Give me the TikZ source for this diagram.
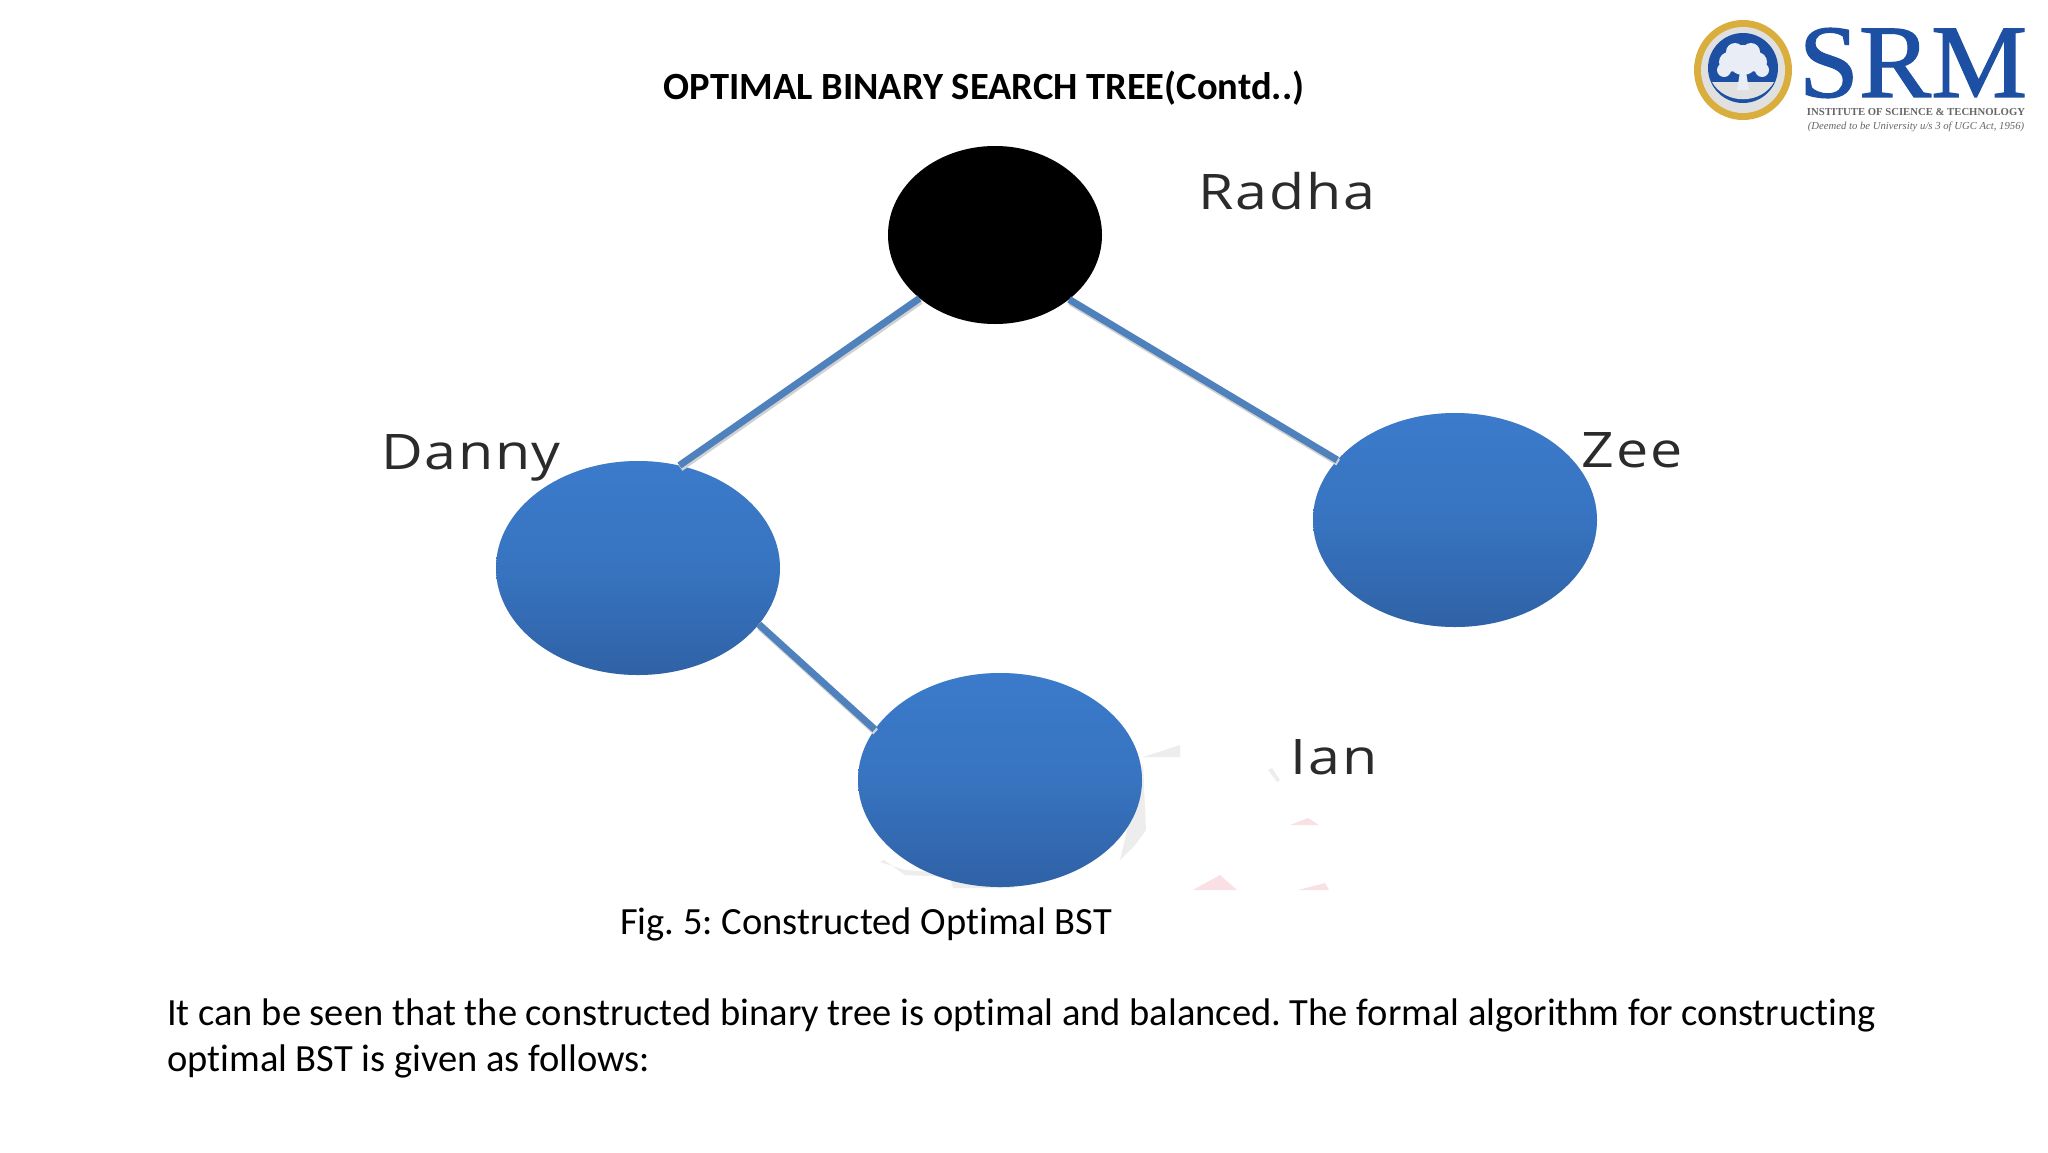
\documentclass[tikz,border=0pt]{standalone}
\usepackage{fontspec}
\setmainfont[Ligatures=NoCommon]{Carlito}
\newfontfamily\labelfont[FakeStretch=1.17,LetterSpace=3.5]{Open Sans}
\newfontfamily\logofont{Liberation Serif}
\newfontfamily\logobig[FakeStretch=1.04,FakeBold=1.2]{Liberation Serif}
\usetikzlibrary{shapes.geometric,shadows,calc}
\definecolor{nodetop}{HTML}{3B7BCB}
\definecolor{nodebot}{HTML}{2F62A6}
\definecolor{edgeblue}{HTML}{4F81BD}
\definecolor{logoblue}{HTML}{1D4FA3}
\definecolor{logogold}{HTML}{D9AE3C}
\definecolor{labelgrey}{HTML}{2B2B2B}
\definecolor{smudgepink}{HTML}{F9E0E4}
\definecolor{smudgegrey}{HTML}{EDEDED}
\tikzset{
  bstnode/.style={ellipse,minimum width=284pt,minimum height=214pt,inner sep=0pt,
    top color=nodetop,bottom color=nodebot,middle color=nodetop!70!nodebot,
    general shadow={fill=black!30,shift={(2pt,-3pt)},opacity=.5}},
  rootnode/.style={ellipse,minimum width=214pt,minimum height=178pt,inner sep=0pt,fill=black,
    general shadow={fill=black!30,shift={(1pt,-3pt)},opacity=.4}},
  edgeline/.style={draw=edgeblue,line width=7pt},
  edgeshadow/.style={draw=black!18,line width=7pt},
  treelabel/.style={font=\labelfont\fontsize{49}{49}\selectfont,text=labelgrey,anchor=center,inner sep=0pt},
  bodytext/.style={font=\frenchspacing\fontsize{38.5}{46}\selectfont,anchor=west,inner sep=0pt},
  titletext/.style={font=\bfseries\fontsize{38.5}{46}\selectfont,anchor=center,inner sep=0pt},
  smudge/.style={fill=smudgegrey},
  pinksmudge/.style={fill=smudgepink},
}
\begin{document}
\begin{tikzpicture}[x=1pt,y=-1pt]
\useasboundingbox (0,0) rectangle (2048,1152);
\fill[white] (0,0) rectangle (2048,1152);

\node[titletext] (title) at (984,88) {OPTIMAL BINARY SEARCH TREE(Contd..)};

% faint scan residue round the lower node
\fill[smudge] (1143,763) -- (1146,830) -- (1135,845) -- (1120,860) -- cycle;
\fill[smudge] (1143,757) -- (1180,745) -- (1180,757) -- cycle;
\fill[smudge] (1268,770) -- (1272,768) -- (1280,780) -- (1277,782) -- cycle;
\fill[smudge] (880,862) -- (884,860) -- (905,875) -- (950,877) -- (953,888) -- (1014,888) -- (1014,878) -- (905,870) -- cycle;
\fill[pinksmudge] (1193,890) -- (1220,875) -- (1237,890) -- cycle;
\fill[pinksmudge] (1298,890) -- (1325,883) -- (1329,890) -- cycle;
\fill[pinksmudge] (1290,825) -- (1308,818) -- (1319,825) -- cycle;

% tree nodes
\node[rootnode] (radha) at (995,235) {};
\node[bstnode] (danny) at (638,568) {};
\node[bstnode] (zee) at (1455,520) {};
\node[bstnode] (ian) at (1000,780) {};

% connectors
\draw[edgeshadow,transform canvas={shift={(1pt,-2.5pt)}}] (radha.220) -- (danny.68);
\draw[edgeshadow,transform canvas={shift={(1pt,-2.5pt)}}] (radha.-41) -- (zee.153);
\draw[edgeshadow,transform canvas={shift={(1pt,-2.5pt)}}] (danny.-25) -- (ian.158);
\draw[edgeline] (radha.220) -- (danny.68);
\draw[edgeline] (radha.-41) -- (zee.153);
\draw[edgeline] (danny.-25) -- (ian.158);

% labels
\node[treelabel] (lradha) at (1287,191) {Radha};
\node[treelabel] (ldanny) at (471,458) {Danny};
\node[treelabel] (lzee) at (1632,450) {Zee};
\node[treelabel] (lian) at (1334,757) {Ian};

% texts
\node[bodytext] (fig) at (620,924) {Fig. 5: Constructed Optimal BST};
\node[bodytext] (p1) at (167,1015) {It can be seen that the constructed binary tree is optimal and balanced. The formal algorithm for constructing};
\node[bodytext] (p2) at (167,1061) {optimal BST is given as follows:};

% logo
\fill[logogold] (1743,70) ellipse (49 and 50);
\fill[white!88!black] (1743,70) ellipse (42 and 43);
\fill[logoblue] (1743,68) circle (35);
\fill[white!88!black] (1712,82) .. controls (1725,105) and (1761,105) .. (1774,82) -- cycle;
\foreach \cx/\cy/\r in {1743/60/15,1729/62/10,1757/62/10,1735/52/9,1751/52/9,1724/70/7,1762/70/7}
  \fill[white!90!logoblue] (\cx,\cy) circle (\r);
\fill[white!90!logoblue] (1740,72) -- (1746,72) -- (1749,90) -- (1737,90) -- cycle;
\node[font=\logobig\fontsize{104}{104}\selectfont,text=logoblue,inner sep=0pt,anchor=center] (srm) at (1913,63) {SRM};
\node[font=\logofont\bfseries\fontsize{10.7}{11}\selectfont,text=black!60,inner sep=0pt,anchor=center] (inst) at (1916,111.5) {INSTITUTE OF SCIENCE \& TECHNOLOGY};
\node[font=\logofont\itshape\fontsize{10.7}{11}\selectfont,text=black!60,inner sep=0pt,anchor=center] (deemed) at (1916,126.5) {(Deemed to be University u/s 3 of UGC Act, 1956)};
\end{tikzpicture}
\end{document}
